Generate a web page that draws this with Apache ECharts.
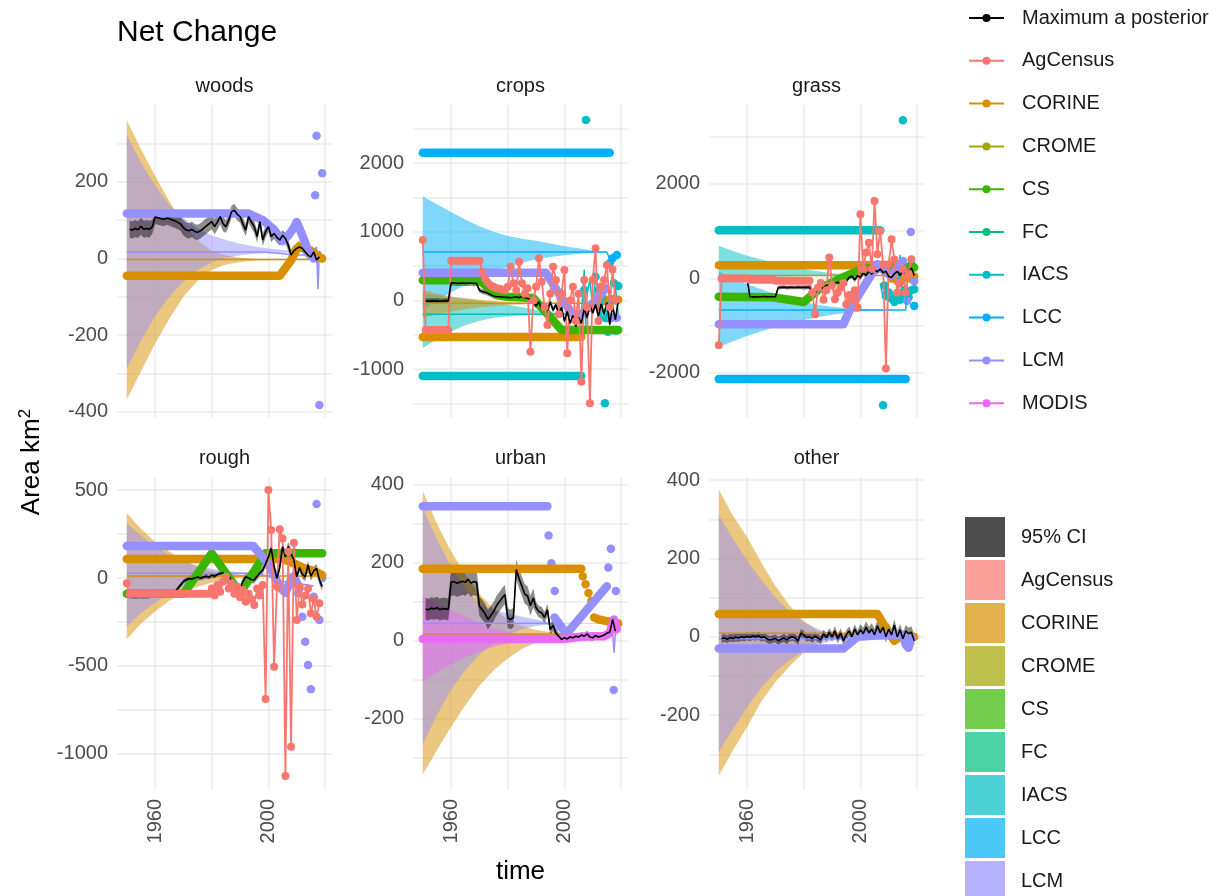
<!DOCTYPE html>
<html>
<head>
<meta charset="utf-8">
<title>Net Change</title>
<script src="https://cdn.jsdelivr.net/npm/echarts@6/dist/echarts.min.js"></script>
<style>
  html, body { margin: 0; padding: 0; background: #fff; }
  #chart { width: 1223px; height: 896px; }
</style>
</head>
<body>
<div id="chart"></div>
<script>
// values (years on x, km2 on y)
const panelNames = ['woods', 'crops', 'grass', 'rough', 'urban', 'other'];
const xLabelYears = [1960, 2000];
const yLimits = [[-416, 400], [-1711, 2847], [-2955, 3670], [-1205, 574], [-382, 420], [-391, 408]];
const yLabelStep = [200, 1000, 2000, 500, 200, 200];

const lineLegend = ['Maximum a posterior', 'AgCensus', 'CORINE', 'CROME', 'CS', 'FC', 'IACS', 'LCC', 'LCM', 'MODIS'];
const fillLegend = ['95% CI', 'AgCensus', 'CORINE', 'CROME', 'CS', 'FC', 'IACS', 'LCC', 'LCM', 'MODIS'];

// maximum a posteriori, one value a year from 1951
const woodsMap = [76, 74, 78, 75, 84, 76, 78, 76, 82, 108,
  106, 104, 102, 105, 104, 100, 98, 94, 90, 80,
  74, 72, 76, 70, 68, 72, 78, 84, 90, 96,
  83, 95, 109, 90, 83, 100, 122, 126, 115, 109,
  90, 74, 109, 95, 83, 57, 96, 48, 70, 83,
  57, 65, 55, 48, 60, 52, 35, 9, 20, 26,
  30, 26, 17, 8, 4, 17, -4, 4];
const cropsMap = [-8, -10, -6, -9, -7, -10, -8, -6, -8, 255,
  258, 250, 252, 255, 250, 253, 255, 248, 250, 150,
  130, 120, 105, 85, 65, 55, 55, 50, 45, 45,
  40, 48, 50, 42, 60, 45, 30, 20, -30, -80,
  -20, -130, -60, -150, -20, -140, -60, -200, -100, -300,
  -160, -330, -220, -380, -250, -330, -120, -250, -70, -180,
  -60, -230, -50, -200, -30, -350, -80, -280, -10];
const grassMap = [0, 5, -5, 0, 3, -3, 0, 5, 0, 2,
  -390, -392, -388, -395, -390, -385, -392, -390, -388, -390,
  -195, -190, -185, -195, -190, -188, -192, -185, -190, -188,
  -190, -185, -320, -300, -250, -220, -200, -150, -130, -150,
  -100, -80, -120, -40, -60, 20, 50, -30, 60, 20,
  120, 60, 150, 90, 180, 140, 200, 120, 150, 40,
  20, 100, 150, 60, 180, 100, 120, 220, 60];
const roughMap = [-105, -105, -106, -104, -105, -106, -104, -105, -95, -92,
  -92, -94, -90, -92, -93, -90, -80, -60, -40, -20,
  -10, -5, -5, 0, 5, 0, 5, 10, 5, 15,
  10, 20, 25, 30, 10, 15, -20, -30, -50, -59,
  -20, 7, 0, -10, -11, 10, 30, 45, 80, 120,
  169, 64, -2, 60, 178, 120, 180, 140, 102, 7,
  60, 20, 7, 74, 10, 40, 55, -11, -49];
const urbanMap = [82, 80, 84, 82, 85, 80, 83, 82, 81, 150,
  152, 148, 150, 153, 150, 158, 148, 152, 150, 89,
  80, 70, 55, 65, 75, 90, 100, 110, 119, 59,
  55, 60, 183, 160, 140, 120, 115, 90, 110, 85,
  75, 72, 60, 80, 29, 40, 20, 12, 4, 8,
  5, 10, 8, 12, 10, 15, 12, 18, 10, 8,
  14, 10, 12, 15, 20, 22, 55, 25];
const otherMap = [-5, -3, -6, -2, -4, -1, -3, 0, -2, 1,
  -1, 2, 0, 3, -2, 0, -5, -8, -6, -4,
  -10, -6, -3, -8, -2, 0, -3, -10, 10, 5,
  -2, 0, -5, 2, -3, -8, 8, -2, 12, 0,
  15, -5, 10, -10, 5, 15, 0, 20, 5, 18,
  8, 25, 10, 20, 5, 28, 10, 25, 0, 20,
  5, 30, 0, 18, -5, 15, 8, 12, -10];

// half width of the 95% CI, [from year, half width]
const woodsCi = [[1951, 22], [1959, 18], [1970, 20], [1985, 16], [2000, 14], [2010, 10]];
const cropsCi = [[1951, 40], [1970, 35], [1990, 40], [2005, 50]];
const grassCi = [[1951, 40], [1980, 45], [2000, 60]];
const roughCi = [[1951, 12], [1990, 20], [2000, 25]];
const urbanCi = [[1951, 28], [1960, 35], [1970, 25], [1990, 15], [1998, 8]];
const otherCi = [[1951, 10], [1990, 12], [2000, 15]];

// AgCensus, one value a year from 1950
const cropsCensus = [880,
  -430, -430, -430, -430, -430, -430, -430, -430, -430,
  580, 580, 580, 580, 580, 580, 580, 580, 580, 580, 580,
  420, 320, 260, 220, 200, 180, 170, 160, 150,
  200, 492, 250, 150, 565, 250, 100, 178, -745, 0,
  200, 614, 274, -100, -357, 100, 492, 300, -200, 100,
  444, -769, 0, 200, -300, 100, -1182, 300, -100, -1497,
  300, 760, -300, 200, 300, 517, -100, 450, 7];
const grassCensus = [-1414,
  0, 0, 0, 0, 0, 0, 0, 0, 0, 0,
  -30, -30, -30, -30, -30, -30, -30, -30, -30,
  -50, -50, -50, -50, -50, -50, -50, -50, -50, -50, -50, -50, -50,
  -300, -758, -200, -100, -450, -250, 440, -150, -440, -300,
  -200, -100, -550, -350, -450, -250, -618, 1358, 200, 546,
  757, 200, 1640, 512, 1005, 300, -1909, 300, 829, 400,
  -300, -100, 200, -300, 100, 406];
const roughCensus = [-30,
  -90, -90, -90, -90, -90, -90, -90, -90, -90, -90,
  -90, -90, -90, -90, -90, -90, -90, -90, -90, -90,
  -90, -90, -90, -90, -90, -90, -90, -90, -90,
  -60, -100, -40, -78, -20, 7, -60, -30, -90, -50,
  -110, -70, -135, -90, -120, -153, -60, -100, -40, -688,
  500, 273, -504, -50, 277, 225, -1125, 150, -959, 200,
  -239, -50, -150, -100, -60, -200, -120, -220, -144];

// source uncertainty ribbons, [year, lower, upper]
const woodsCorineRibbon = [[1950, -368, 360], [1955, -295, 285], [1960, -222, 215], [1965, -158, 150], [1970, -100, 90], [1975, -58, 48], [1980, -30, 20], [1985, -16, 8], [1990, -9, 2], [1995, -6, -1], [2000, -5, -2], [2010, -4, -2], [2019, -4, -2]];
const woodsLcmRibbon = [[1950, -287, 322], [1955, -215, 250], [1960, -150, 190], [1965, -100, 140], [1970, -60, 105], [1975, -30, 78], [1980, -10, 60], [1985, 2, 48], [1990, 8, 38], [1995, 12, 31], [2000, 14, 26], [2005, 15, 22], [2010, 16, 20], [2019, 16, 18]];
const cropsLccRibbon = [[1950, -150, 1520], [1955, 0, 1400], [1960, 120, 1290], [1965, 230, 1180], [1970, 330, 1080], [1975, 420, 1000], [1980, 490, 940], [1985, 550, 900], [1990, 600, 870], [1995, 635, 830], [2000, 660, 790], [2005, 680, 760], [2010, 695, 730], [2015, 700, 708]];
const cropsIacsRibbon = [[1950, -690, 100], [1955, -560, 75], [1960, -450, 50], [1965, -360, 25], [1970, -300, 0], [1975, -250, -30], [1980, -230, -60], [1985, -220, -100], [1990, -212, -140], [1995, -206, -170], [2000, -202, -190], [2006, -200, -197]];
const cropsCorineRibbon = [[1950, -250, 150], [1960, -160, 60], [1970, -100, 10], [1980, -65, -20], [1990, -48, -33], [2000, -42, -38], [2019, -41, -39]];
const grassLccRibbon = [[1950, -1450, 150], [1955, -1330, 0], [1960, -1220, -120], [1965, -1120, -230], [1970, -1030, -330], [1975, -950, -420], [1980, -880, -500], [1985, -820, -560], [1990, -770, -600], [1995, -730, -630], [2000, -700, -650], [2005, -685, -660], [2010, -675, -665], [2016, -670, -668]];
const grassIacsRibbon = [[1950, 0, 690], [1955, 10, 580], [1960, 20, 480], [1965, 28, 400], [1970, 35, 330], [1975, 40, 260], [1980, 45, 200], [1985, 48, 150], [1990, 50, 110], [1995, 50, 85], [2000, 50, 70], [2007, 50, 55]];
const roughCorineRibbon = [[1950, -348, 368], [1955, -260, 280], [1960, -190, 205], [1965, -130, 150], [1970, -85, 100], [1975, -50, 65], [1980, -25, 40], [1985, -8, 25], [1990, 2, 18], [1995, 7, 14], [2000, 10, 12], [2019, 10, 12]];
const roughLcmRibbon = [[1950, -277, 311], [1955, -200, 240], [1960, -140, 180], [1965, -90, 130], [1970, -50, 95], [1975, -20, 70], [1980, 0, 52], [1985, 12, 40], [1990, 20, 33], [1995, 24, 30], [2000, 26, 28], [2019, 26, 28]];
const urbanCorineRibbon = [[1950, -342, 384], [1955, -280, 300], [1960, -220, 230], [1965, -165, 170], [1970, -115, 120], [1975, -75, 82], [1980, -45, 55], [1985, -20, 38], [1990, -5, 28], [1995, 6, 22], [2000, 12, 20], [2005, 15, 19], [2019, 17, 19]];
const urbanLcmRibbon = [[1950, -265, 340], [1955, -190, 260], [1960, -125, 190], [1965, -75, 135], [1970, -35, 95], [1975, -5, 80], [1980, 15, 70], [1985, 30, 62], [1990, 38, 55], [1995, 42, 48], [2000, 44, 46], [2019, 44, 46]];
const urbanModisRibbon = [[1950, -103, 115], [1955, -80, 95], [1960, -60, 78], [1965, -42, 62], [1970, -28, 45], [1975, -15, 32], [1980, -6, 22], [1985, 0, 15], [1990, 2, 10], [1995, 4, 7], [2000, 5, 6], [2019, 5, 6]];
const otherCorineRibbon = [[1950, -354, 376], [1955, -290, 310], [1960, -230, 255], [1965, -165, 190], [1970, -115, 130], [1975, -75, 80], [1980, -40, 40], [1985, -15, 15], [1990, 0, 10], [1995, 5, 9], [2000, 7, 9], [2019, 8, 9]];
const otherLcmRibbon = [[1950, -294, 312], [1955, -235, 250], [1960, -180, 195], [1965, -130, 145], [1970, -90, 100], [1975, -60, 65], [1980, -35, 38], [1985, -20, 20], [1990, -10, 8], [1995, -6, 2], [2000, -5, 0], [2019, -4, -1]];

// thin source lines, [year, value]
const woodsCorineLine = [[1950, -3], [2019, -3]];
const woodsLcmLine = [[1950, 17], [1998, 17], [2005, 12], [2010, 8], [2015, 10], [2017, 30], [2017.5, -80], [2018, 20], [2019, 5]];
const cropsLccLine = [[1950, 705], [2015, 705], [2016, 600]];
const cropsIacsLine = [[1950, -200], [2006, -200], [2007, 450], [2007.5, -400], [2008, 100], [2009, 300], [2010, -100], [2011, 350], [2012, 50], [2013, -300], [2014, 200], [2015, -250], [2016, 150], [2017, -100], [2018, 220], [2019, -200]];
const cropsCorineLine = [[1950, -40], [2019, -40]];
const grassLccLine = [[1950, -668], [2016, -668], [2016.5, -100]];
const grassIacsLine = [[2007, -100], [2008, -400], [2009, -200], [2010, -500], [2011, -300], [2012, -450], [2013, -350], [2014, 500], [2014.5, -300], [2015, -450], [2016, -250], [2017, -350], [2018, -200], [2019, -250]];
const grassCorineLine = [[1950, 60], [2019, 60]];
const roughCorineLine = [[1950, 11], [2019, 11]];
const roughLcmLine = [[1950, 27], [1995, 27], [2000, 10], [2005, -20], [2010, -30], [2016, -45]];
const urbanCorineLine = [[1950, 18], [2006, 18]];
const urbanLcmLine = [[1950, 45], [1994, 45], [2000, 20], [2010, 10], [2017, 30], [2017.5, -30], [2018, 20]];
const otherCorineLine = [[1950, 9], [2019, 9]];
const otherLcmLine = [[1950, -5], [2019, -5]];

// dense runs of source points (drawn as thick bands), [year, value]
const woodsCorineBand = [[1950, -45], [2004, -45], [2006, -25], [2008, -5], [2010, 25], [2011, 33], [2013, 28], [2015, 20], [2017, 8], [2019, 0]];
const woodsLcmBand = [[1950, 117], [1993, 117], [1998, 100], [2002, 75], [2005, 45], [2007, 60], [2009, 80], [2010, 95], [2012, 60], [2014, 20], [2016, 0]];
const cropsLccBand = [[1950, 2150], [2016, 2150]];
const cropsIacsBand = [[1950, -1100], [2006, -1100]];
const cropsCorineBand = [[1950, -530], [2006, -530]];
const cropsCsBand = [[1950, 295], [1970, 295], [1976, 80], [1980, 55], [1989, 35], [1999, -430], [2019, -430]];
const cropsLcmBand = [[1950, 405], [1993.5, 405], [2000.5, -65], [2004, -236], [2006, -200], [2010, -40], [2014.7, 178]];
const grassIacsBand = [[1950, 1020], [2007, 1020]];
const grassLccBand = [[1950, -2130], [2016, -2130]];
const grassCorineBand = [[1950, 280], [2007, 280], [2008, 230]];
const grassCsBand = [[1950, -390], [1969, -400], [1980, -500], [1986, -200], [1993, 0], [2000, 180], [2006, 250], [2019, 230]];
const grassLcmBand = [[1950, -970], [1994, -970], [1996.4, -650], [1999.9, -300], [2003, 0], [2006, 300], [2009, 120], [2011, 60], [2013, 220], [2015, 370]];
const roughLcmBand = [[1950, 182], [1994.7, 182], [1999, 100], [2002, 20], [2004, -50], [2006, -85], [2008, -10], [2009, 10], [2011, -60]];
const roughCorineBand = [[1950, 108], [2000, 108], [2005, 108], [2008, 90], [2012, 60], [2016, 40], [2019, 17]];
const roughCsBand = [[1950, -90], [1970, -90], [1980, 140], [1990, -87], [1999, 140], [2019, 140]];
const urbanLcmBand = [[1950, 345], [1994, 345]];
const urbanLcmRamp = [[1996.5, 60], [2000.5, 20], [2001.5, 25], [2015, 140]];
const urbanCorineBand = [[1950, 185], [2006, 185]];
const urbanCorineTail = [[2010.5, 60], [2012, 55], [2019, 45]];
const urbanModisBand = [[1950, 5], [2000, 5], [2005, 10], [2010, 12], [2014, 12], [2016, 20], [2017.5, 55], [2018.5, 30]];
const otherCorineBand = [[1950, 58], [2006, 58], [2010, 10], [2012, -10], [2015, 5], [2019, 0]];
const otherLcmBand = [[1950, -30], [1994, -30], [1999, 0], [2010, 5], [2015, 5], [2016, -20], [2017, -28], [2018, 0]];

// isolated source points, [year, value]
const woodsLcmPoints = [[2016.5, 165], [2017, 320], [2018, -382], [2019, 222]];
const cropsIacsPoints = [[2007, 153], [2007.6, 2628], [2011, 347], [2012, 150], [2014.3, -1497], [2014.7, -260], [2015.3, -454], [2016, -236], [2017.5, 250], [2018.2, -440], [2019, 210]];
const cropsLccPoints = [[2016, 541], [2017, 614], [2018.5, 662]];
const cropsCorinePoints = [[2013, -20], [2014, 0], [2015, 10], [2016, -10], [2017, 20], [2018, 0], [2019, 10]];
const cropsLcmPoints = [[2016.5, -260], [2017.5, -430], [2018.5, -250]];
const grassIacsPoints = [[2008, -2684], [2008.5, -150], [2009, -380], [2010, -300], [2011, -420], [2012, -500], [2013, -350], [2014, -450], [2015, 3348], [2015.5, -250], [2016, -300], [2017, -400], [2018, -250], [2019, -230]];
const grassLccPoints = [[2018, 300], [2019, -582]];
const grassCorinePoints = [[2011, 0], [2013, -53], [2015, -20], [2017, 0], [2019, 40]];
const grassLcmPoints = [[2016.5, -476], [2017.8, 984], [2019, -60]];
const roughLcmPoints = [[2010.5, -87], [2012, -220], [2013, -362], [2014, -494], [2015, -632], [2016, -106], [2017, 420], [2018, -239], [2019, 0]];
const urbanLcmPoints = [[1994.4, 270], [1995.4, 199], [1996.6, 128], [2015.5, 188], [2016.4, 236], [2017.4, -126], [2018.2, 128]];
const urbanCorinePoints = [[2006.5, 166], [2007.5, 145], [2008.5, 123], [2009.5, 102]];

const COLORS = {
  AgCensus: '#F8766D', CORINE: '#D89000', CROME: '#A3A500', CS: '#39B600', FC: '#00BF7D',
  IACS: '#00BFC4', LCC: '#00B0F6', LCM: '#9590FF', MODIS: '#E76BF3'
};
const FONT = 'Liberation Sans, Arial, sans-serif';

const panels = [
  { map: woodsMap, ci: woodsCi, census: null,
    ribbons: [['CORINE', woodsCorineRibbon], ['LCM', woodsLcmRibbon]],
    lines: [['CORINE', woodsCorineLine], ['LCM', woodsLcmLine]],
    bands: [['CORINE', woodsCorineBand], ['LCM', woodsLcmBand]],
    points: [['LCM', woodsLcmPoints]] },
  { map: cropsMap, ci: cropsCi, census: cropsCensus,
    ribbons: [['LCC', cropsLccRibbon], ['IACS', cropsIacsRibbon], ['CORINE', cropsCorineRibbon]],
    lines: [['CORINE', cropsCorineLine], ['IACS', cropsIacsLine], ['LCC', cropsLccLine]],
    bands: [['CORINE', cropsCorineBand], ['CS', cropsCsBand], ['IACS', cropsIacsBand], ['LCC', cropsLccBand], ['LCM', cropsLcmBand]],
    points: [['CORINE', cropsCorinePoints], ['IACS', cropsIacsPoints], ['LCC', cropsLccPoints], ['LCM', cropsLcmPoints]] },
  { map: grassMap, ci: grassCi, census: grassCensus,
    ribbons: [['IACS', grassIacsRibbon], ['LCC', grassLccRibbon]],
    lines: [['CORINE', grassCorineLine], ['IACS', grassIacsLine], ['LCC', grassLccLine]],
    bands: [['CORINE', grassCorineBand], ['CS', grassCsBand], ['IACS', grassIacsBand], ['LCC', grassLccBand], ['LCM', grassLcmBand]],
    points: [['CORINE', grassCorinePoints], ['IACS', grassIacsPoints], ['LCC', grassLccPoints], ['LCM', grassLcmPoints]] },
  { map: roughMap, ci: roughCi, census: roughCensus,
    ribbons: [['CORINE', roughCorineRibbon], ['LCM', roughLcmRibbon]],
    lines: [['CORINE', roughCorineLine], ['LCM', roughLcmLine]],
    bands: [['CORINE', roughCorineBand], ['CS', roughCsBand], ['LCM', roughLcmBand]],
    points: [['LCM', roughLcmPoints]] },
  { map: urbanMap, ci: urbanCi, census: null,
    ribbons: [['CORINE', urbanCorineRibbon], ['LCM', urbanLcmRibbon], ['MODIS', urbanModisRibbon]],
    lines: [['CORINE', urbanCorineLine], ['LCM', urbanLcmLine]],
    bands: [['CORINE', urbanCorineBand], ['CORINE', urbanCorineTail], ['LCM', urbanLcmBand], ['LCM', urbanLcmRamp], ['MODIS', urbanModisBand]],
    points: [['CORINE', urbanCorinePoints], ['LCM', urbanLcmPoints]] },
  { map: otherMap, ci: otherCi, census: null,
    ribbons: [['CORINE', otherCorineRibbon], ['LCM', otherLcmRibbon]],
    lines: [['CORINE', otherCorineLine], ['LCM', otherLcmLine]],
    bands: [['CORINE', otherCorineBand], ['LCM', otherLcmBand]],
    points: [] }
];

const gridLeft = [117, 413, 709];
const gridTop = [105, 477];

function annual(values, start) {
  return values.map((v, i) => [start + i, v]);
}

function ciRows(values, start, steps) {
  return values.map((v, i) => {
    const year = start + i;
    let h = steps[0][1];
    steps.forEach(s => { if (year >= s[0]) h = s[1]; });
    return [year, v - h, v + h];
  });
}

function ribbon(axis, rows, fill) {
  return {
    ...axis, type: 'custom', silent: true, clip: true,
    data: [[rows[0][0], rows[0][1]]],
    renderItem: (params, api) => {
      const top = rows.map(r => api.coord([r[0], r[2]]));
      const bottom = rows.map(r => api.coord([r[0], r[1]])).reverse();
      return { type: 'polygon', shape: { points: top.concat(bottom) }, style: { fill: fill } };
    }
  };
}

const series = [];
panels.forEach((p, i) => {
  const axis = { xAxisIndex: i, yAxisIndex: i };
  p.ribbons.forEach(([src, rows]) => series.push(ribbon(axis, rows, COLORS[src] + '80')));
  p.lines.forEach(([src, pts]) => series.push({
    ...axis, type: 'line', data: pts, showSymbol: false, silent: true,
    lineStyle: { color: COLORS[src], width: 1.5 }
  }));
  p.bands.forEach(([src, pts]) => series.push({
    ...axis, type: 'line', data: pts, showSymbol: false, silent: true,
    lineStyle: { color: COLORS[src], width: 8.5, cap: 'round', join: 'round' }
  }));
  p.points.forEach(([src, pts]) => series.push({
    ...axis, type: 'scatter', data: pts, symbolSize: 8.5, silent: true,
    itemStyle: { color: COLORS[src], opacity: 1 }
  }));
  if (p.census) {
    series.push({
      ...axis, type: 'line', data: annual(p.census, 1950), symbol: 'circle', symbolSize: 8,
      showSymbol: true, silent: true,
      lineStyle: { color: COLORS.AgCensus, width: 1.8 }, itemStyle: { color: COLORS.AgCensus }
    });
  }
  series.push(ribbon(axis, ciRows(p.map, 1951, p.ci), 'rgba(0,0,0,0.45)'));
  series.push({
    ...axis, type: 'line', data: annual(p.map, 1951), showSymbol: false, silent: true,
    lineStyle: { color: '#000', width: 1.6 }
  });
});

// empty series that only feed the two legends
lineLegend.forEach(name => {
  const c = name === 'Maximum a posterior' ? '#000000' : COLORS[name];
  series.push({ type: 'line', name: name, data: [], xAxisIndex: 0, yAxisIndex: 0, symbol: 'circle',
    itemStyle: { color: c }, lineStyle: { color: c, width: 2 } });
});
fillLegend.forEach(name => {
  series.push({ type: 'line', name: 'fill:' + name, data: [], xAxisIndex: 0, yAxisIndex: 0 });
});

const grids = panelNames.map((n, i) => ({
  left: gridLeft[i % 3], top: gridTop[Math.floor(i / 3)], width: 215, height: 313
}));

const xAxes = panelNames.map((n, i) => ({
  type: 'value', gridIndex: i, min: 1946.55, max: 2022.45, minInterval: 20, maxInterval: 20,
  axisLine: { show: false }, axisTick: { show: false },
  splitLine: { show: true, showMinLine: false, showMaxLine: false, lineStyle: { color: '#EBEBEB', width: 1.5 } },
  axisLabel: {
    show: i >= 3, rotate: 90, margin: 9, fontSize: 20, color: '#4D4D4D', fontFamily: FONT,
    showMinLabel: false, showMaxLabel: false,
    formatter: v => (xLabelYears.includes(v) ? String(v) : '')
  }
}));

const yAxes = panelNames.map((n, i) => ({
  type: 'value', gridIndex: i, min: yLimits[i][0], max: yLimits[i][1],
  minInterval: yLabelStep[i] / 2, maxInterval: yLabelStep[i] / 2,
  axisLine: { show: false }, axisTick: { show: false },
  splitLine: { show: true, showMinLine: false, showMaxLine: false, lineStyle: { color: '#EBEBEB', width: 1.5 } },
  axisLabel: {
    margin: 9, fontSize: 20, color: '#4D4D4D', fontFamily: FONT,
    showMinLabel: false, showMaxLabel: false,
    formatter: v => (Math.abs(v % yLabelStep[i]) < 1e-6 ? String(v) : '')
  }
}));

const stripTitles = panelNames.map((n, i) => ({
  text: n, left: gridLeft[i % 3] + 107.5, top: gridTop[Math.floor(i / 3)] - 29, textAlign: 'center', padding: 0,
  textStyle: { fontSize: 20, fontWeight: 'normal', color: '#1A1A1A', fontFamily: FONT, lineHeight: 20 }
}));

const chart = echarts.init(document.getElementById('chart'));
chart.setOption({
  animation: false,
  backgroundColor: '#ffffff',
  textStyle: { fontFamily: FONT },
  title: [
    { text: 'Net Change', left: 117, top: 18, padding: 0,
      textStyle: { fontSize: 30, fontWeight: 'normal', color: '#000', fontFamily: FONT, lineHeight: 30 } },
    { text: 'time', left: 520.5, top: 859, textAlign: 'center', padding: 0,
      textStyle: { fontSize: 26, fontWeight: 'normal', color: '#000', fontFamily: FONT, lineHeight: 26 } }
  ].concat(stripTitles),
  graphic: [{
    type: 'text', x: 32, y: 462, rotation: Math.PI / 2,
    style: {
      text: '{a|Area km}{s|2}', align: 'center', verticalAlign: 'middle', fill: '#000',
      rich: {
        a: { fontSize: 26, fontFamily: FONT, lineHeight: 30, fill: '#000' },
        s: { fontSize: 17, fontFamily: FONT, lineHeight: 17, verticalAlign: 'top', fill: '#000' }
      }
    }
  }],
  legend: [
    { orient: 'vertical', left: 968, top: 8, padding: 0, itemWidth: 35, itemHeight: 10, itemGap: 22.8,
      selectedMode: false, data: lineLegend,
      textStyle: { fontSize: 20, color: '#1A1A1A', fontFamily: FONT, lineHeight: 20, padding: [0, 0, 0, 13] } },
    { orient: 'vertical', left: 965, top: 517, padding: 0, height: 480, itemWidth: 40, itemHeight: 40, itemGap: 3,
      selectedMode: false,
      data: fillLegend.map(n => ({
        name: 'fill:' + n, icon: 'rect',
        itemStyle: { color: n === '95% CI' ? '#4D4D4D' : COLORS[n] + 'B3', borderWidth: 0 }
      })),
      formatter: name => name.slice(5),
      textStyle: { fontSize: 20, color: '#1A1A1A', fontFamily: FONT, lineHeight: 20, padding: [0, 0, 0, 11] } }
  ],
  grid: grids,
  xAxis: xAxes,
  yAxis: yAxes,
  series: series
});
</script>
</body>
</html>
